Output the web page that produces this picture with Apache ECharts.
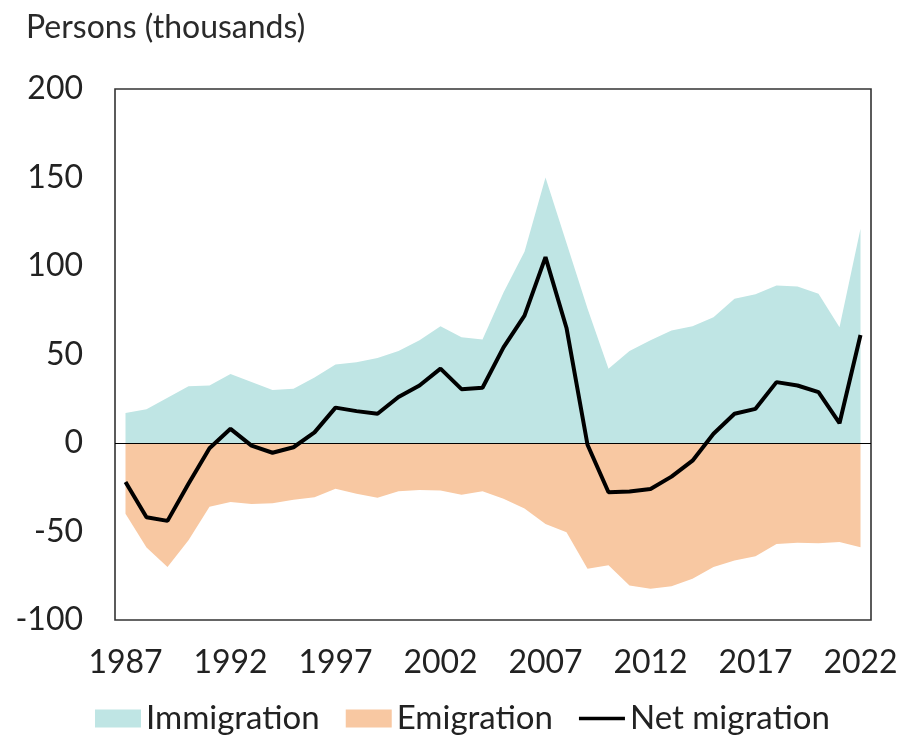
<!DOCTYPE html>
<html><head><meta charset="utf-8">
<script src="https://cdn.jsdelivr.net/npm/echarts@6/dist/echarts.min.js"></script>
<style>html,body{margin:0;padding:0;background:#fff}#c{width:902px;height:737px}</style>
</head><body><div id="c"></div>
<script>
const years = ['1987','1988','1989','1990','1991','1992','1993','1994','1995','1996','1997','1998','1999','2000','2001','2002','2003','2004','2005','2006','2007','2008','2009','2010','2011','2012','2013','2014','2015','2016','2017','2018','2019','2020','2021','2022'];
const immigration = [17,19,25.5,32,32.5,39,34.5,30,30.6,37,44.3,45.6,48,52,58,66,59.8,58.5,85,108,150,113,76,42,52,58,63.5,66,71,81.5,84,89,88.4,84.3,65.4,121];
const emigration = [-40,-59,-70,-55,-36,-33.4,-34.4,-34,-32,-30.6,-25.9,-28.7,-31,-27.2,-26.5,-26.8,-29.3,-27.2,-31.5,-37,-45.7,-50.4,-71,-69,-80.5,-82.4,-81,-76.7,-70,-66.4,-64,-57,-56.4,-56.6,-56,-58.9];
const netMigration = [-22,-42,-44,-23,-3,8,-1.5,-5.5,-2.4,6,20,18,16.5,26,32.5,42,30.4,31.2,54,72,105,65,-1,-27.8,-27.4,-26,-19,-10,5.2,16.5,19.3,34.4,32.5,28.7,11.2,61];
const yTicks = {min:-100, max:200, interval:50};

const FONT = 'Lato';
const chart = echarts.init(document.getElementById('c'));
chart.setOption({
  animation:false,
  backgroundColor:'#fff',
  title:{text:'Persons (thousands)', left:21, top:7, textStyle:{fontFamily:FONT, fontSize:32, fontWeight:'normal', color:'#2a2a2a'}},
  grid:{left:115, right:31, top:89, bottom:117, show:true, borderColor:'#333', borderWidth:1.6, backgroundColor:'transparent'},
  legend:{bottom:-3, left:90, itemWidth:46, itemHeight:18, itemGap:26,
    textStyle:{fontFamily:FONT, fontSize:33, color:'#222'},
    data:[{name:'Immigration', icon:'rect'},{name:'Emigration', icon:'rect'},{name:'Net migration', icon:'path://M0,0H50V4H0Z'}]},
  xAxis:{type:'category', data:years, boundaryGap:true,
    axisLine:{show:false}, axisTick:{show:false}, splitLine:{show:false},
    axisLabel:{interval:4, margin:27, fontFamily:FONT, fontSize:32, color:'#222'}},
  yAxis:{type:'value', min:yTicks.min, max:yTicks.max, interval:yTicks.interval,
    axisLine:{show:false}, axisTick:{show:false}, splitLine:{show:false},
    axisLabel:{margin:32, fontFamily:FONT, fontSize:32, color:'#222'}},
  series:[
    {name:'Emigration', type:'line', data:emigration, symbol:'none', color:'#f8c8a2',
     lineStyle:{width:0}, areaStyle:{color:'#f8c8a2', opacity:1}, z:1},
    {name:'Immigration', type:'line', data:immigration, symbol:'none', color:'#bfe5e4',
     lineStyle:{width:0}, areaStyle:{color:'#bfe5e4', opacity:1}, z:1},
    {name:'Net migration', type:'line', data:netMigration, symbol:'none', color:'#000',
     lineStyle:{width:4, color:'#000'}, z:3,
     markLine:{silent:true, symbol:['none','none'], label:{show:false},
       lineStyle:{color:'#000', width:1.2, type:'solid'}, data:[{yAxis:0}], z:2}}
  ]
});
</script></body></html>
